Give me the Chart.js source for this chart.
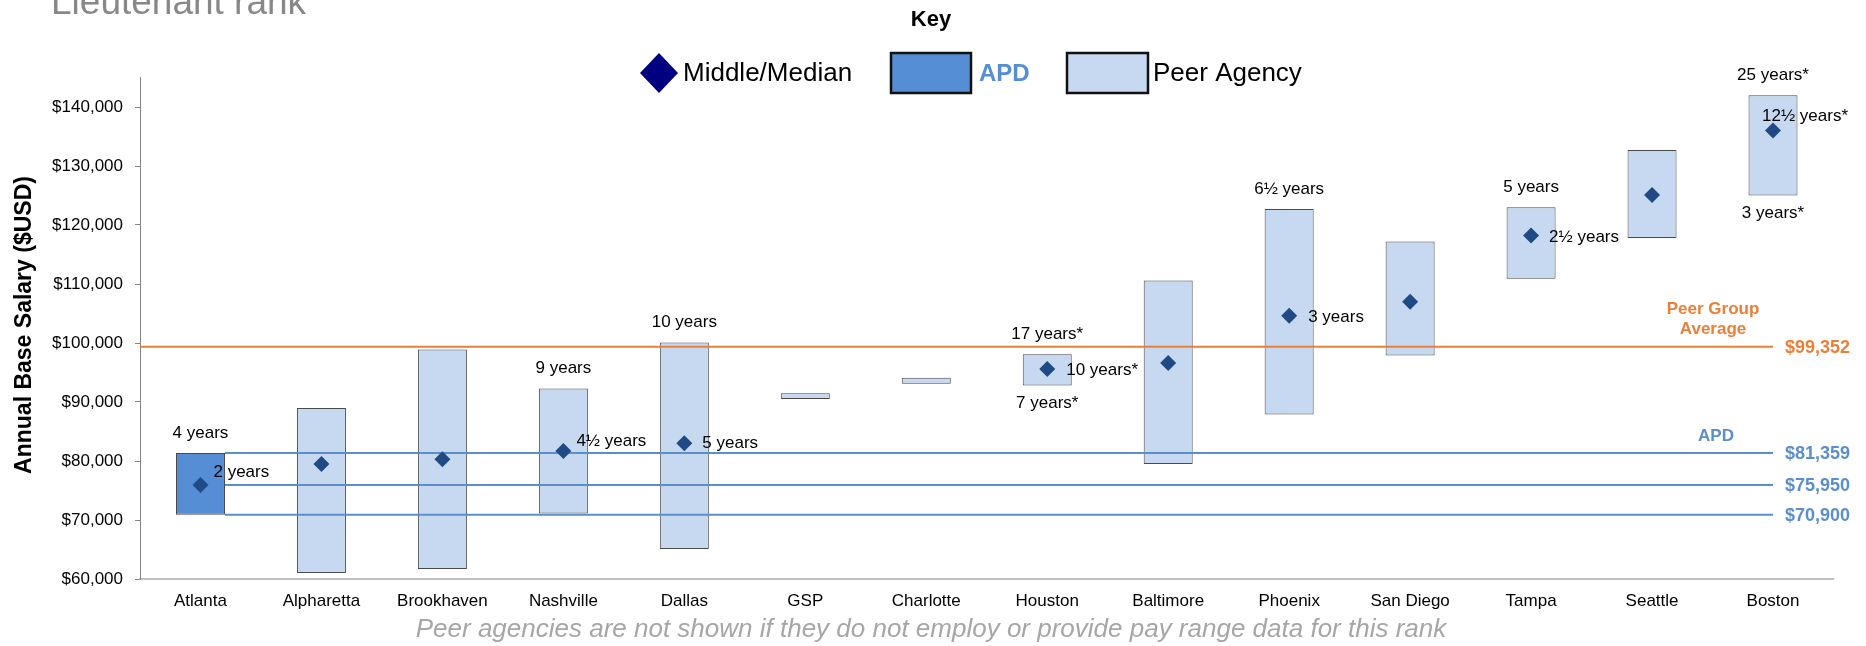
<!DOCTYPE html>
<html>
<head>
<meta charset="utf-8">
<script src="https://cdn.jsdelivr.net/npm/chart.js@4.4.1/dist/chart.umd.min.js"></script>
<style>
  html, body { margin: 0; padding: 0; background: #fff; }
  #wrap { width: 1866px; height: 646px; position: relative; }
</style>
</head>
<body>
<div id="wrap"><canvas id="chart"></canvas></div>
<script>
// data
const categories = ['Atlanta', 'Alpharetta', 'Brookhaven', 'Nashville', 'Dallas', 'GSP', 'Charlotte',
  'Houston', 'Baltimore', 'Phoenix', 'San Diego', 'Tampa', 'Seattle', 'Boston'];
const rangeMin = [70900, 61000, 61700, 71100, 65100, 90500, 93100, 92800, 79500, 87900, 97900, 110900, 117800, 125000];
const rangeMax = [81359, 89000, 98900, 92300, 100100, 91500, 94100, 98100, 110600, 122700, 117200, 123000, 132700, 142000];
const median = [75950, 79500, 80300, 81700, 83000, null, null, 95600, 96600, 104600, 107000, 118200, 125100, 136000];

const topLabels = ['4 years', '', '', '9 years', '10 years', '', '', '17 years*', '', '6\u00bd years', '', '5 years', '', '25 years*'];
const midLabels = ['2 years', '', '', '4\u00bd years', '5 years', '', '', '10 years*', '', '3 years', '', '2\u00bd years', '', '12\u00bd years*'];
const bottomLabels = ['', '', '', '', '', '', '', '7 years*', '', '', '', '', '', '3 years*'];

const peerAverage = 99352;
const apdLines = [81359, 75950, 70900];
const yTicks = [60000, 70000, 80000, 90000, 100000, 110000, 120000, 130000, 140000];

// where the middle labels sit next to the diamond (dx, dy in px)
const midLabelShift = {0: [13, -13], 3: [13, -10], 4: [18, 0], 7: [19, 1], 9: [19, 1], 11: [18, 2], 13: [-11, -14]};

const FONT = "'Liberation Sans', Arial, Helvetica, sans-serif";
Chart.defaults.font.family = FONT;
Chart.defaults.color = '#000';

const APD_BLUE = '#558ED5';
const PEER_BLUE = '#C6D9F1';
const ORANGE = '#E9803A';
const LINE_BLUE = '#5B8FCB';

function money(v) {
  return '$' + v.toLocaleString('en-US');
}

const decorPlugin = {
  id: 'decor',
  beforeDatasetDraw(chart, args) {
    if (args.index !== 1) return;
    // reference lines go over the bars but under the diamonds
    const { ctx, chartArea } = chart;
    const x = chart.scales.x, y = chart.scales.y;
    const endX = x.getPixelForValue(categories.length - 1);
    const bar0 = chart.getDatasetMeta(0).data[0];
    const apdStart = bar0.x + bar0.width / 2;
    ctx.save();
    ctx.lineWidth = 2;
    ctx.strokeStyle = ORANGE;
    let py = y.getPixelForValue(peerAverage);
    ctx.beginPath(); ctx.moveTo(chartArea.left, py); ctx.lineTo(endX, py); ctx.stroke();
    ctx.strokeStyle = LINE_BLUE;
    apdLines.forEach(v => {
      const ly = y.getPixelForValue(v);
      ctx.beginPath(); ctx.moveTo(apdStart, ly); ctx.lineTo(endX, ly); ctx.stroke();
    });
    ctx.restore();
  },
  afterDatasetsDraw(chart) {
    const { ctx } = chart;
    const x = chart.scales.x, y = chart.scales.y;
    ctx.save();
    ctx.fillStyle = '#000';
    ctx.font = '17px ' + FONT;
    ctx.textBaseline = 'middle';
    categories.forEach((c, i) => {
      const cx = x.getPixelForValue(i);
      if (topLabels[i]) {
        ctx.textAlign = 'center';
        ctx.fillText(topLabels[i], cx, y.getPixelForValue(rangeMax[i]) - 20);
      }
      if (bottomLabels[i]) {
        ctx.textAlign = 'center';
        ctx.fillText(bottomLabels[i], cx, y.getPixelForValue(rangeMin[i]) + 18);
      }
      if (midLabels[i]) {
        const s = midLabelShift[i] || [15, 0];
        ctx.textAlign = 'left';
        ctx.fillText(midLabels[i], cx + s[0], y.getPixelForValue(median[i]) + s[1]);
      }
    });

    // labels at the right end of the reference lines
    const endX = x.getPixelForValue(categories.length - 1);
    ctx.font = 'bold 18px ' + FONT;
    ctx.textAlign = 'left';
    ctx.fillStyle = ORANGE;
    const py = y.getPixelForValue(peerAverage);
    ctx.fillText(money(peerAverage), endX + 12, py + 1);
    ctx.fillStyle = LINE_BLUE;
    apdLines.forEach(v => ctx.fillText(money(v), endX + 12, y.getPixelForValue(v) + 1));
    ctx.font = 'bold 17px ' + FONT;
    ctx.textAlign = 'center';
    ctx.fillStyle = ORANGE;
    ctx.fillText('Peer Group', endX - 60, py - 38);
    ctx.fillText('Average', endX - 60, py - 18);
    ctx.fillStyle = LINE_BLUE;
    ctx.fillText('APD', endX - 57, y.getPixelForValue(apdLines[0]) - 17);
    ctx.restore();
  },
  afterDraw(chart) {
    const { ctx } = chart;
    ctx.save();
    // page title, cut at the top edge
    ctx.fillStyle = '#888888';
    ctx.font = '37px ' + FONT;
    ctx.textAlign = 'left';
    ctx.textBaseline = 'alphabetic';
    ctx.fillText('Lieutenant rank', 51, 14);

    // key
    ctx.textBaseline = 'middle';
    ctx.fillStyle = '#000';
    ctx.font = 'bold 22px ' + FONT;
    ctx.textAlign = 'center';
    ctx.fillText('Key', 931, 20);

    ctx.fillStyle = '#000080';
    ctx.beginPath();
    ctx.moveTo(640, 73); ctx.lineTo(659, 53); ctx.lineTo(678, 73); ctx.lineTo(659, 93);
    ctx.closePath(); ctx.fill();
    ctx.fillStyle = '#000';
    ctx.font = '26px ' + FONT;
    ctx.textAlign = 'left';
    ctx.fillText('Middle/Median', 683, 74);

    ctx.lineWidth = 2.5;
    ctx.strokeStyle = '#111';
    ctx.fillStyle = APD_BLUE;
    ctx.fillRect(891, 53, 80, 40); ctx.strokeRect(891, 53, 80, 40);
    ctx.font = 'bold 24px ' + FONT;
    ctx.fillText('APD', 979, 74);

    ctx.fillStyle = PEER_BLUE;
    ctx.fillRect(1067, 53, 81, 40); ctx.strokeRect(1067, 53, 81, 40);
    ctx.fillStyle = '#000';
    ctx.font = '26px ' + FONT;
    ctx.fillText('Peer Agency', 1153, 74);

    // y axis title
    ctx.save();
    ctx.translate(25, 325);
    ctx.rotate(-Math.PI / 2);
    ctx.font = 'bold 23px ' + FONT;
    ctx.textAlign = 'center';
    ctx.fillText('Annual Base Salary ($USD)', 0, 0);
    ctx.restore();

    // footnote
    ctx.fillStyle = '#A6A6A6';
    ctx.font = 'italic 26px ' + FONT;
    ctx.textAlign = 'center';
    ctx.fillText('Peer agencies are not shown if they do not employ or provide pay range data for this rank', 931, 630);
    ctx.restore();
  }
};

new Chart(document.getElementById('chart'), {
  type: 'bar',
  data: {
    labels: categories,
    datasets: [
      {
        type: 'bar',
        label: 'Range',
        data: rangeMin.map((v, i) => [v, rangeMax[i]]),
        backgroundColor: categories.map((c, i) => i === 0 ? APD_BLUE : PEER_BLUE),
        borderColor: '#4a4a4a',
        borderWidth: 1,
        borderSkipped: false,
        barPercentage: 0.405,
        categoryPercentage: 1,
        order: 2
      },
      {
        type: 'line',
        label: 'Middle/Median',
        data: median,
        showLine: false,
        pointStyle: 'rectRot',
        pointRadius: 8,
        pointBackgroundColor: '#1F4A85',
        pointBorderWidth: 0,
        order: 1
      }
    ]
  },
  options: {
    responsive: true,
    maintainAspectRatio: false,
    animation: false,
    layout: { padding: { top: 77.5, right: 32.5, left: 0, bottom: 0 } },
    plugins: { legend: { display: false }, tooltip: { enabled: false } },
    scales: {
      x: {
        offset: true,
        grid: { display: false },
        border: { color: '#BFBFBF', width: 2 },
        ticks: { font: { size: 17 }, color: '#000', padding: 4, maxRotation: 0, autoSkip: false },
        afterFit(s) { s.height = 67; }
      },
      y: {
        min: 60000,
        max: 145000,
        grid: { drawOnChartArea: false, drawTicks: true, tickLength: 5, color: '#868686' },
        border: { color: '#868686', width: 1 },
        ticks: { font: { size: 17 }, color: '#000', padding: 12, callback: v => money(v) },
        afterBuildTicks(s) { s.ticks = yTicks.map(v => ({ value: v })); },
        afterFit(s) { s.width = 140; }
      }
    }
  },
  plugins: [decorPlugin]
});
</script>
</body>
</html>
